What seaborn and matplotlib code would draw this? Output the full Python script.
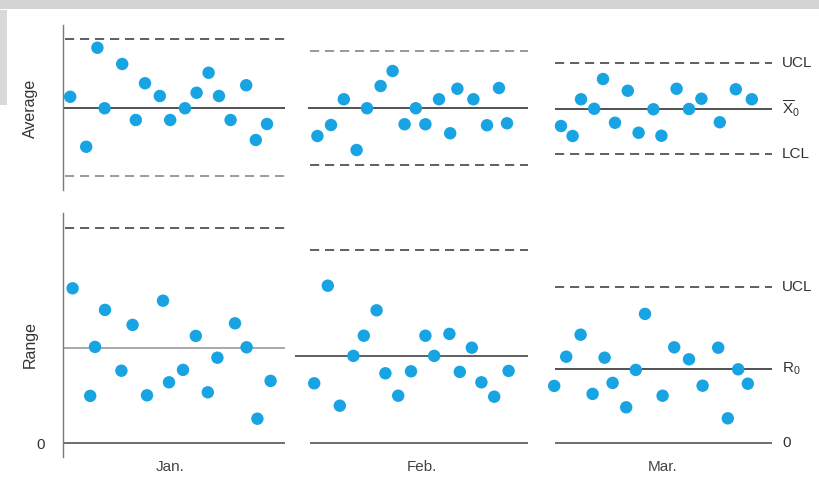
import matplotlib
matplotlib.use("Agg")
import matplotlib.pyplot as plt
import matplotlib.transforms as mtransforms
from matplotlib.patches import Rectangle
import pandas as pd
import seaborn as sns

# ---- data -------------------------------------------------------------
months = ["Jan.", "Feb.", "Mar."]

# sample days (day of quarter) for the subgroup averages
avg_day_jan = [0.9, 2.9, 4.3, 5.2, 7.4, 9.1, 10.25, 12.1, 13.4, 15.25, 16.7, 18.2, 19.5, 20.95, 22.9, 24.1, 25.5]
avg_day_feb = [31.8, 33.5, 35.1, 36.7, 38.0, 39.7, 41.2, 42.7, 44.1, 45.3, 47.0, 48.4, 49.3, 51.3, 53.0, 54.5, 55.5]
avg_day_mar = [62.25, 63.7, 64.75, 66.4, 67.5, 69.0, 70.6, 71.95, 73.8, 74.8, 76.7, 78.25, 79.8, 82.1, 84.1, 86.1]

avg_jan = [10.43, 8.43, 12.39, 9.97, 11.74, 9.50, 10.97, 10.46, 9.50, 9.97, 10.59, 11.39, 10.46, 9.50, 10.89, 8.70, 9.34]
avg_feb = [8.86, 9.30, 10.33, 8.30, 9.97, 10.86, 11.46, 9.33, 9.97, 9.33, 10.33, 8.97, 10.75, 10.33, 9.29, 10.78, 9.37]
avg_mar = [9.26, 8.86, 10.33, 9.95, 11.14, 9.39, 10.67, 8.99, 9.93, 8.87, 10.75, 9.94, 10.35, 9.41, 10.73, 10.33]

# sample days for the subgroup ranges
rng_day_jan = [1.2, 3.4, 4.0, 5.25, 7.3, 8.7, 10.5, 12.5, 13.25, 15.0, 16.6, 18.1, 19.3, 21.5, 22.95, 24.3, 25.95]
rng_day_feb = [31.4, 33.1, 34.6, 36.3, 37.6, 39.2, 40.3, 41.9, 43.5, 45.3, 46.4, 48.3, 49.6, 51.1, 52.3, 53.9, 55.7]
rng_day_mar = [61.4, 62.9, 64.7, 66.2, 67.7, 68.7, 70.4, 71.6, 72.75, 74.95, 76.4, 78.25, 79.95, 81.9, 83.1, 84.4, 85.6]

rng_jan = [7.75, 2.37, 4.82, 6.67, 3.63, 5.92, 2.40, 7.13, 3.05, 3.67, 5.37, 2.55, 4.28, 6.00, 4.80, 1.23, 3.12]
rng_feb = [3.00, 7.88, 1.88, 4.37, 5.38, 6.65, 3.50, 2.38, 3.60, 5.38, 4.37, 5.47, 3.57, 4.78, 3.05, 2.33, 3.62]
rng_mar = [2.87, 4.33, 5.43, 2.47, 4.28, 3.02, 1.80, 3.67, 6.47, 2.38, 4.80, 4.20, 2.88, 4.78, 1.25, 3.70, 2.98]

# control limits per month
x0_center = [10.0, 10.0, 9.95]
x_ucl = [12.74, 12.28, 11.77]
x_lcl = [7.26, 7.72, 8.13]
r0_center = [4.78, 4.38, 3.72]
r_ucl = [10.78, 9.67, 7.83]

# ---- tables -----------------------------------------------------------
avg_df = pd.DataFrame({
    "day": avg_day_jan + avg_day_feb + avg_day_mar,
    "value": avg_jan + avg_feb + avg_mar,
})
rng_df = pd.DataFrame({
    "day": rng_day_jan + rng_day_feb + rng_day_mar,
    "value": rng_jan + rng_feb + rng_mar,
})

# ---- layout -----------------------------------------------------------
sns.set_theme(style="white")
plt.rcParams["font.family"] = ["Liberation Sans", "DejaVu Sans"]
plt.rcParams["mathtext.fontset"] = "custom"
plt.rcParams["mathtext.rm"] = "Liberation Sans"
plt.rcParams["mathtext.it"] = "Liberation Sans"

W, H = 819, 478
fig = plt.figure(figsize=(W / 100, H / 100), dpi=100)
fig.patch.set_facecolor("white")

ax_top = fig.add_axes([63 / W, 1 - 190 / H, (W - 63) / W, 165 / H])
ax_bot = fig.add_axes([63 / W, 1 - 457 / H, (W - 63) / W, 244 / H])

# month spans along the time axis: (dashed start, center start, end)
spans_top = [(0.25, 0.0, 27.75), (30.9, 30.6, 58.1), (61.5, 61.5, 88.6)]
spans_bot = [(0.25, 0.0, 27.75), (30.9, 29.0, 58.1), (61.5, 61.5, 88.6)]

dot_color = "#18a4e2"
dash_kw = dict(linestyles=(0, (5.5, 3.5)), linewidth=1.2)

for ax in (ax_top, ax_bot):
    ax.set_xlim(0, 94.5)
    for side in ("top", "right", "bottom"):
        ax.spines[side].set_visible(False)
    ax.spines["left"].set_color("#7a7a7a")
    ax.spines["left"].set_linewidth(1.0)
    ax.set_xticks([])
    ax.set_facecolor("none")

ax_top.set_ylim(6.7, 13.3)
ax_bot.set_ylim(-0.685, 11.515)

# average chart: control lines
top_ucl_colors = ["#444444", "#888888", "#444444"]
top_lcl_colors = ["#8a8a8a", "#444444", "#444444"]
for i, (xd, xc, xe) in enumerate(spans_top):
    ax_top.hlines(x_ucl[i], xd, xe, colors=top_ucl_colors[i], **dash_kw)
    ax_top.hlines(x_lcl[i], xd, xe, colors=top_lcl_colors[i], **dash_kw)
    ax_top.hlines(x0_center[i], xc, xe, colors="#333333", linewidth=1.2)

# range chart: control lines
bot_center_colors = ["#9a9a9a", "#444444", "#333333"]
for i, (xd, xc, xe) in enumerate(spans_bot):
    ax_bot.hlines(r_ucl[i], xd, xe, colors="#444444", **dash_kw)
    ax_bot.hlines(r0_center[i], xc, xe, colors=bot_center_colors[i], linewidth=1.2)
    zero_start = 0.0 if i == 0 else xd
    ax_bot.hlines(0, zero_start, xe, colors="#555555", linewidth=1.2)

# sample points
sns.scatterplot(data=avg_df, x="day", y="value", ax=ax_top, color=dot_color,
                s=80, edgecolor="none", zorder=3, legend=False)
sns.scatterplot(data=rng_df, x="day", y="value", ax=ax_bot, color=dot_color,
                s=80, edgecolor="none", zorder=3, legend=False)

for ax in (ax_top, ax_bot):
    ax.set_xlabel("")
    ax.set_ylabel("")

# y ticks: only the zero of the range chart is labelled
ax_top.set_yticks([])
ax_bot.set_yticks([0])
ax_bot.set_yticklabels(["0"], fontsize=11, color="#333333")
ax_bot.tick_params(axis="y", length=0, pad=13)

# axis titles
fig.text(30 / W, 1 - 108 / H, "Average", rotation=90, ha="center", va="center",
         fontsize=11.5, color="#333333")
fig.text(30 / W, 1 - 345 / H, "Range", rotation=90, ha="center", va="center",
         fontsize=11.5, color="#333333")

# month names under the range chart
month_centers = [13.4, 44.8, 74.9]
trans = mtransforms.blended_transform_factory(ax_bot.transData, fig.transFigure)
for m, xc in zip(months, month_centers):
    ax_bot.text(xc, 1 - 467 / H, m, transform=trans, ha="center", va="center",
                fontsize=11, color="#444444")

# labels for the March control lines
lab_x = 89.9
lab_kw = dict(ha="left", va="center", fontsize=11, color="#333333", clip_on=False)
ax_top.text(lab_x, x_ucl[2], "UCL", **lab_kw)
ax_top.text(lab_x, x0_center[2], r"$\overline{\mathrm{X}}_0$", **lab_kw)
ax_top.text(lab_x, x_lcl[2], "LCL", **lab_kw)
ax_bot.text(lab_x, r_ucl[2], "UCL", **lab_kw)
ax_bot.text(lab_x, r0_center[2], r"$\mathrm{R}_0$", **lab_kw)
ax_bot.text(lab_x, 0, "0", **lab_kw)

# light grey banner along the top edge
fig.patches.append(Rectangle((0, 1 - 9 / H), 1, 9 / H, transform=fig.transFigure,
                             facecolor="#d4d4d4", edgecolor="none", zorder=0))
fig.patches.append(Rectangle((0, 1 - 105 / H), 7 / W, 95 / H, transform=fig.transFigure,
                             facecolor="#d9d9d9", edgecolor="none", zorder=0))

fig.savefig("out.png", dpi=100)
